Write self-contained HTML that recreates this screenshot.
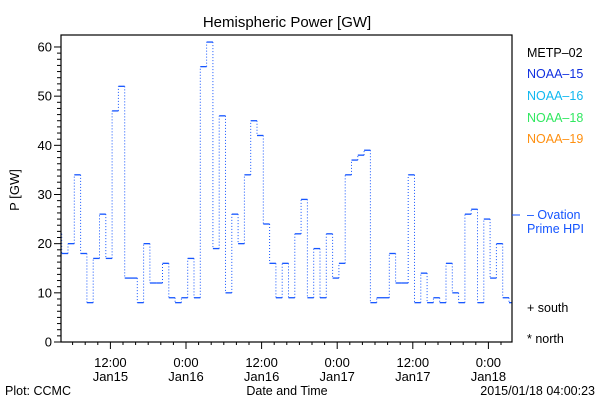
<!DOCTYPE html>
<html><head><meta charset="utf-8"><style>
body{margin:0;background:#fff;}
svg{display:block;font-family:"Liberation Sans",sans-serif;}
</style></head><body>
<svg id="chart" width="600" height="400">
<text x="287" y="27" font-size="15" text-anchor="middle">Hemispheric Power [GW]</text>
<text x="0" y="0" font-size="13" text-anchor="middle" transform="translate(19,190) rotate(-90)">P [GW]</text>
<g id="axes"></g>
<g id="series"></g>
<rect x="61" y="35" width="451" height="307" fill="none" stroke="#000" stroke-width="1.2"/>
<line x1="512" y1="215" x2="520" y2="215" stroke="#1555ff"/>
<g font-size="12.5">
<text x="527" y="57" fill="#000">METP–02</text>
<text x="527" y="78" fill="#1030e0">NOAA–15</text>
<text x="527" y="100" fill="#10b8f0">NOAA–16</text>
<text x="527" y="122" fill="#30e860">NOAA–18</text>
<text x="527" y="143" fill="#ff9010">NOAA–19</text>
<text x="527" y="219" fill="#1555ff">– Ovation</text>
<text x="527" y="233" fill="#1555ff">Prime HPI</text>
<text x="527" y="312" fill="#000">+ south</text>
<text x="527" y="343" fill="#000">* north</text>
</g>
<text x="5" y="395" font-size="12.5">Plot: CCMC</text>
<text x="287" y="395" font-size="12.5" text-anchor="middle">Date and Time</text>
<text x="595" y="395" font-size="12.5" text-anchor="end">2015/01/18 04:00:23</text>
</svg>
<script>
const values=[22,18,20,34,18,8,17,26,17,47,52,13,13,8,20,12,12,16,9,8,9,17,9,56,61,19,46,10,26,20,34,45,42,24,16,9,16,9,22,29,9,19,9,22,13,16,34,37,38,39,8,9,9,18,12,12,34,8,14,8,9,8,16,10,8,26,27,8,25,13,20,9,8];
const startHour=3.27; // hours since Jan15 00:00 of first (partial) step
const yTicks=[0,10,20,30,40,50,60];
const xTickHours=[12,24,36,48,60,72];
const xTickTimes=["12:00","0:00","12:00","0:00","12:00","0:00"];
const xTickDates=["Jan15","Jan16","Jan16","Jan17","Jan17","Jan18"];
const NS="http://www.w3.org/2000/svg";
const X0=61,X1=512,Y0=342,Y1=35;
function x(t){return 186+(t-24)*6.3;}
function y(v){return 342-v*4.917;}
function mk(tag,attrs,parent){const e=document.createElementNS(NS,tag);for(const k in attrs)e.setAttribute(k,attrs[k]);parent.appendChild(e);return e;}
const axes=document.getElementById('axes');
const series=document.getElementById('series');
// y ticks
for(let v=0;v<=60;v+=1.25){
 const yy=y(v);if(yy<Y1)break;
 const major=Math.abs(v%10)<1e-6;
 const t=mk('line',{x1:X0-(major?7:4),x2:X0,y1:yy,y2:yy,stroke:'#000'},axes);
 
 
}
yTicks.forEach(v=>{
 const t=mk('text',{x:X0-9,y:y(v)+4.5,'font-size':13,'text-anchor':'end'},axes);
 t.textContent=v;
 
 
});
// x ticks every 2h
for(let h=0;h<=80;h+=2){
 const xx=x(h);if(xx<X0||xx>X1)continue;
 const major=h%12===0;
 const t=mk('line',{x1:xx,x2:xx,y1:Y0,y2:Y0+(major?7:3),stroke:'#000'},axes);
 
 
}
xTickHours.forEach((h,i)=>{
 const a=mk('text',{x:x(h),y:367,'font-size':13,'text-anchor':'middle'},axes);
 a.textContent=xTickTimes[i];
 
 
 const b=mk('text',{x:x(h),y:381,'font-size':13,'text-anchor':'middle'},axes);
 b.textContent=xTickDates[i];
 
 
});
// step series
const clip=v=>Math.max(X0,Math.min(X1,v));
values.forEach((v,i)=>{
 const xa=clip(x(startHour+i)),xb=clip(x(startHour+i+1));
 if(xb<=xa)return;
 const h=mk('line',{x1:xa,x2:xb,y1:y(v),y2:y(v),stroke:'#1555ff','stroke-width':1.3},series);
 
 
 if(i<values.length-1){
  const n=values[i+1];
  if(xb<X1){
   const d=mk('line',{x1:xb,x2:xb,y1:y(v),y2:y(n),stroke:'#1555ff','stroke-width':1,'stroke-dasharray':'1 2'},series);
   
   
  }
 }
});
</script>
</body></html>
